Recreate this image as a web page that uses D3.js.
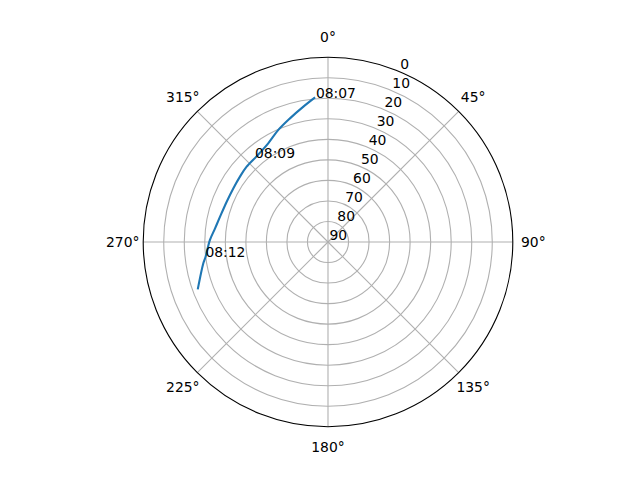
<!DOCTYPE html>
<html>
<head>
<meta charset="utf-8">
<script src="https://cdn.jsdelivr.net/npm/d3@7"></script>
<style>
  body { margin: 0; background: #fff; }
  text { font-family: "DejaVu Sans", sans-serif; font-size: 13.9px; fill: #000; }
</style>
</head>
<body>
<div id="chart"></div>
<script>
// satellite pass (azimuth deg, elevation deg)
var azimuth   = [354.9, 349.7, 342.9, 336.1, 328.8, 320.8, 312.8, 306.6, 299.5, 291.7, 283.2, 276.9, 271.0, 263.0, 260.3, 250.0];
var elevation = [19.3, 23.0, 27.0, 30.3, 33.8, 35.6, 36.0, 36.6, 37.0, 36.9, 36.0, 34.6, 32.5, 29.9, 28.4, 22.5];

// time annotations and where they sit
var timeLabels = ["08:07", "08:09", "08:12"];
var labelAz    = [355.2, 319.0, 262.8];
var labelEl    = [19.4, 35.8, 29.8];

var rTicks = [0, 10, 20, 30, 40, 50, 60, 70, 80, 90];
var thetaTicks = [0, 45, 90, 135, 180, 225, 270, 315];

var svgWidth = 640, svgHeight = 480;
var cx = 328, cy = 242, R = 184.8;

var svg = d3.select("#chart").append("svg")
  .attr("width", svgWidth)
  .attr("height", svgHeight);

var g = svg.append("g").attr("transform", `translate(${cx}, ${cy})`);

// elevation 0 on the rim, 90 in the middle
var rScale = d3.scaleLinear().domain([0, 90]).range([R, 0]);
// compass angle, 0 at north, clockwise
var aScale = d3.scaleLinear().domain([0, 360]).range([0, 2 * Math.PI]);

function px(az, el) {
  var a = aScale(az), r = rScale(el);
  return [r * Math.sin(a), -r * Math.cos(a)];
}

// ring grid
g.selectAll("circle.grid")
  .data(rTicks.filter(d => d > 0 && d < 90))
  .enter().append("circle")
  .attr("class", "grid")
  .attr("r", d => rScale(d))
  .attr("fill", "none")
  .attr("stroke", "#b0b0b0")
  .attr("stroke-width", 1.1);

// spokes
g.selectAll("line.spoke")
  .data(thetaTicks)
  .enter().append("line")
  .attr("class", "spoke")
  .attr("x1", 0).attr("y1", 0)
  .attr("x2", d => px(d, 0)[0])
  .attr("y2", d => px(d, 0)[1])
  .attr("stroke", "#b0b0b0")
  .attr("stroke-width", 1.1);

// the pass
var pass = azimuth.map((a, i) => [aScale(a), rScale(elevation[i])]);
g.append("path")
  .datum(pass)
  .attr("d", d3.lineRadial().curve(d3.curveCatmullRom))
  .attr("fill", "none")
  .attr("stroke", "#1f77b4")
  .attr("stroke-width", 2.1)
  .attr("stroke-linejoin", "round")
  .attr("stroke-linecap", "butt");

// outer rim
g.append("circle")
  .attr("r", rScale(0))
  .attr("fill", "none")
  .attr("stroke", "#000")
  .attr("stroke-width", 1.1);

// radial tick labels along 22.5 deg
g.selectAll("text.rlab")
  .data(rTicks)
  .enter().append("text")
  .attr("class", "rlab")
  .attr("x", d => px(22.5, d)[0] + 1.5)
  .attr("y", d => px(22.5, d)[1] - 2.5)
  .text(d => d);

// angle labels
g.selectAll("text.tlab")
  .data(thetaTicks)
  .enter().append("text")
  .attr("class", "tlab")
  .attr("x", d => Math.sin(aScale(d)) * (R + 20.5))
  .attr("y", d => -Math.cos(aScale(d)) * (R + 20.5))
  .attr("dy", "0.36em")
  .attr("text-anchor", "middle")
  .text(d => d + "°");

// time annotations
g.selectAll("text.time")
  .data(timeLabels)
  .enter().append("text")
  .attr("class", "time")
  .attr("x", (d, i) => px(labelAz[i], labelEl[i])[0])
  .attr("y", (d, i) => px(labelAz[i], labelEl[i])[1])
  .text(d => d);
</script>
</body>
</html>
